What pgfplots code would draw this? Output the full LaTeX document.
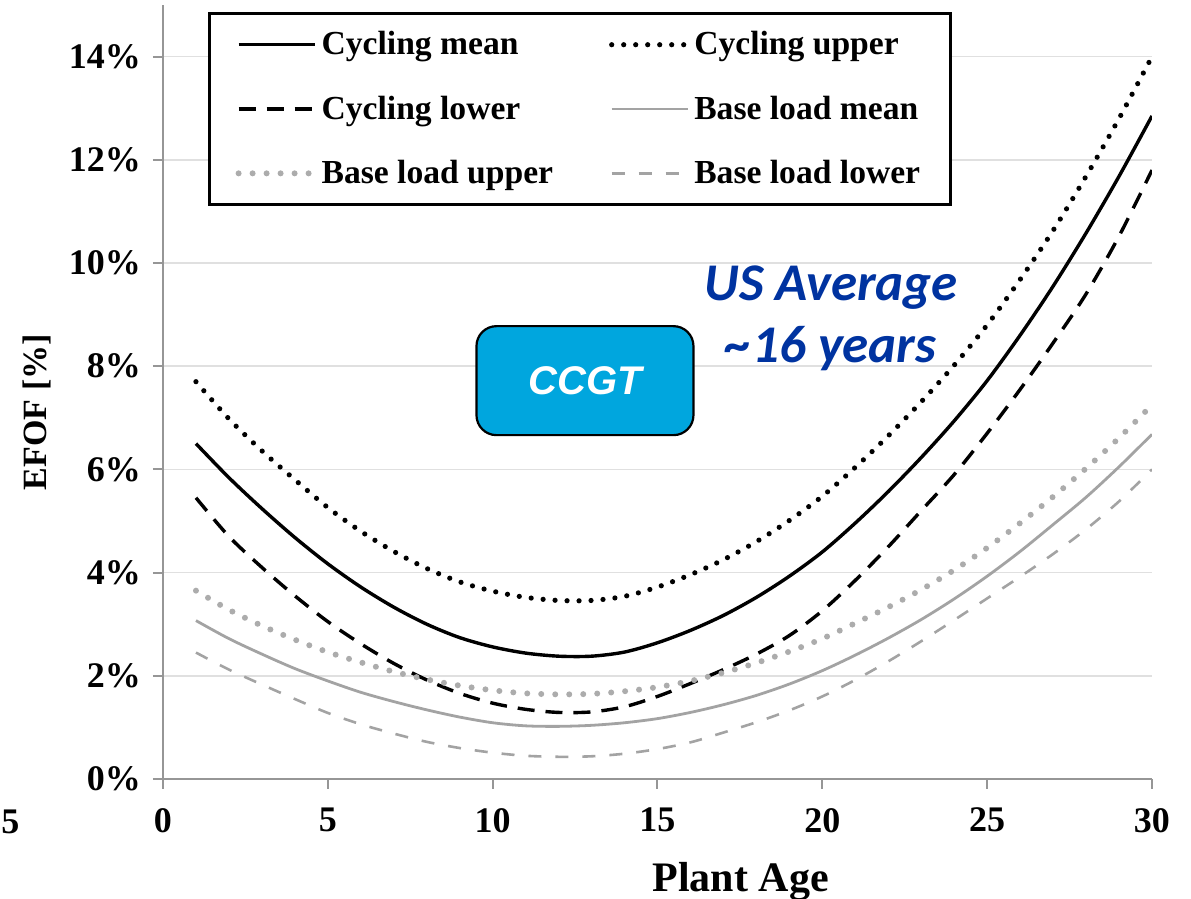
\documentclass[border=0pt]{standalone}
\usepackage{pgfplots}
\pgfplotsset{compat=1.18}
\usepackage{pgfplotstable}
\usepackage{fontspec}
\setmainfont{Liberation Serif}
\newfontfamily\calibrifont{Carlito}
\newfontfamily\arialfont{Liberation Sans}

\definecolor{basegray}{RGB}{163,163,163}
\definecolor{dotgray}{RGB}{172,172,172}
\definecolor{gridgray}{RGB}{224,224,224}
\definecolor{axisgray}{RGB}{150,150,150}
\definecolor{boxcyan}{RGB}{0,166,222}
\definecolor{navyblue}{RGB}{0,51,160}

% EFOF [%] by plant age: cycling and base-load units (mean, upper, lower)
\pgfplotstableread{
x   cm     cu     cl     bm    bu    bl
1   6.50   7.70   5.45   3.07  3.65  2.45
2   5.84   6.98   4.70   2.72  3.28  2.12
3   5.24   6.36   4.10   2.42  2.97  1.83
4   4.68   5.80   3.55   2.14  2.70  1.55
5   4.17   5.26   3.05   1.90  2.46  1.28
6   3.72   4.80   2.62   1.68  2.26  1.06
7   3.33   4.41   2.24   1.50  2.08  0.88
8   3.00   4.08   1.92   1.34  1.93  0.72
9   2.74   3.82   1.66   1.20  1.81  0.60
10  2.56   3.64   1.47   1.09  1.72  0.51
11  2.44   3.52   1.35   1.03  1.66  0.45
12  2.38   3.46   1.29   1.02  1.64  0.43
13  2.38   3.46   1.30   1.04  1.65  0.44
14  2.46   3.54   1.40   1.09  1.70  0.49
15  2.64   3.72   1.60   1.17  1.78  0.58
16  2.88   3.96   1.85   1.29  1.90  0.71
17  3.17   4.25   2.12   1.44  2.06  0.90
18  3.52   4.60   2.42   1.62  2.25  1.10
19  3.93   5.01   2.78   1.84  2.47  1.33
20  4.40   5.48   3.26   2.10  2.72  1.60
21  4.96   6.04   3.85   2.40  3.02  1.92
22  5.57   6.65   4.50   2.73  3.33  2.28
23  6.23   7.31   5.20   3.09  3.67  2.67
24  6.94   8.02   5.90   3.49  4.05  3.08
25  7.72   8.80   6.70   3.93  4.48  3.50
26  8.60   9.68   7.55   4.41  4.96  3.92
27  9.55   10.63  8.45   4.93  5.47  4.36
28  10.58  11.68  9.40   5.46  6.02  4.84
29  11.68  12.80  10.52  6.05  6.61  5.38
30  12.85  14.00  11.80  6.68  7.25  6.00
}\efof

\newcommand{\tickfont}{\fontsize{18}{20}\selectfont\bfseries}
\newcommand{\legfont}{\fontsize{16.8}{19}\selectfont\bfseries}

\begin{document}
\begin{tikzpicture}
\begin{axis}[
  at={(0pt,0pt)}, anchor=south west,
  scale only axis, width=494.5pt, height=387pt,
  xmin=0, xmax=30, ymin=0, ymax=15,
  axis x line*=bottom, axis y line*=left,
  axis line style={axisgray, line width=1.1pt},
  xtick={0,5,10,15,20,25,30},
  xticklabels={0,5,10,15,20,25,30},
  ytick={0,2,4,6,8,10,12,14},
  yticklabels={0\%,2\%,4\%,6\%,8\%,10\%,12\%,14\%},
  tick align=outside, major tick length=5pt,
  tick style={axisgray, line width=1pt},
  ymajorgrids, grid style={gridgray, line width=0.8pt},
  ticklabel style={font=\tickfont},
  xticklabel style={yshift=-6pt},
  yticklabel style={xshift=-2.5pt},
  /pgf/number format/assume math mode=true,
  every axis x label/.style={at={(rel axis cs:0.584,-0.132)}, anchor=center,
    font=\fontsize{21}{24}\selectfont\bfseries},
  every axis y label/.style={at={(rel axis cs:-0.1274,0.474)}, anchor=center,
    rotate=90, font=\fontsize{17}{20}\selectfont\bfseries},
  xlabel={Plant Age}, ylabel={EFOF [\%]},
  legend columns=2,
  legend cell align=left,
  legend image code/.code={\draw[#1] (0pt,0pt) -- (38pt,0pt);},
  legend style={at={(rel axis cs:0.0455,0.991)}, anchor=north west,
    draw=black, line width=1.6pt, fill=white, font=\legfont,
    inner xsep=13pt, inner ysep=7pt, row sep=15pt,
    /tikz/every even column/.append style={column sep=26pt}},
]
\addplot[black, line width=1.7pt, smooth, mark=none] table[x=x, y=cm] {\efof};
\addlegendentry{Cycling mean}
\addplot[black, line width=2.6pt, line cap=round, dash pattern=on 0pt off 6pt, smooth, mark=none] table[x=x, y=cu] {\efof};
\addlegendentry{Cycling upper}
\addplot[black, line width=1.7pt, dash pattern=on 8.5pt off 5.5pt, smooth, mark=none] table[x=x, y=cl] {\efof};
\addlegendentry{Cycling lower}
\addplot[basegray, line width=1.4pt, smooth, mark=none] table[x=x, y=bm] {\efof};
\addlegendentry{Base load mean}
\addplot[dotgray, line width=3pt, line cap=round, dash pattern=on 0pt off 7pt, smooth, mark=none] table[x=x, y=bu] {\efof};
\addlegendentry{Base load upper}
\addplot[basegray, line width=1.3pt, dash pattern=on 6.5pt off 7pt, smooth, mark=none] table[x=x, y=bl] {\efof};
\addlegendentry{Base load lower}

\node[draw=black, line width=1.1pt, fill=boxcyan, rounded corners=10pt,
  minimum width=108.5pt, minimum height=54.5pt, text=white,
  font=\arialfont\bfseries\itshape\fontsize{20}{24}\selectfont]
  at (axis cs:12.8,7.72) {CCGT};
\node[text=navyblue, align=center,
  font=\calibrifont\bfseries\itshape\fontsize{26.5}{31}\selectfont]
  at (axis cs:20.27,8.93) {US Average\\\textasciitilde16 years};
\end{axis}
% tick label of the neighbouring panel at the left margin
\node[anchor=west, inner sep=0pt, font=\tickfont] at (-81pt,-21.5pt) {5};
\pgfresetboundingbox
\path[use as bounding box] (-81.5pt,-60pt) rectangle (514pt,389.5pt);
\end{tikzpicture}
\end{document}
